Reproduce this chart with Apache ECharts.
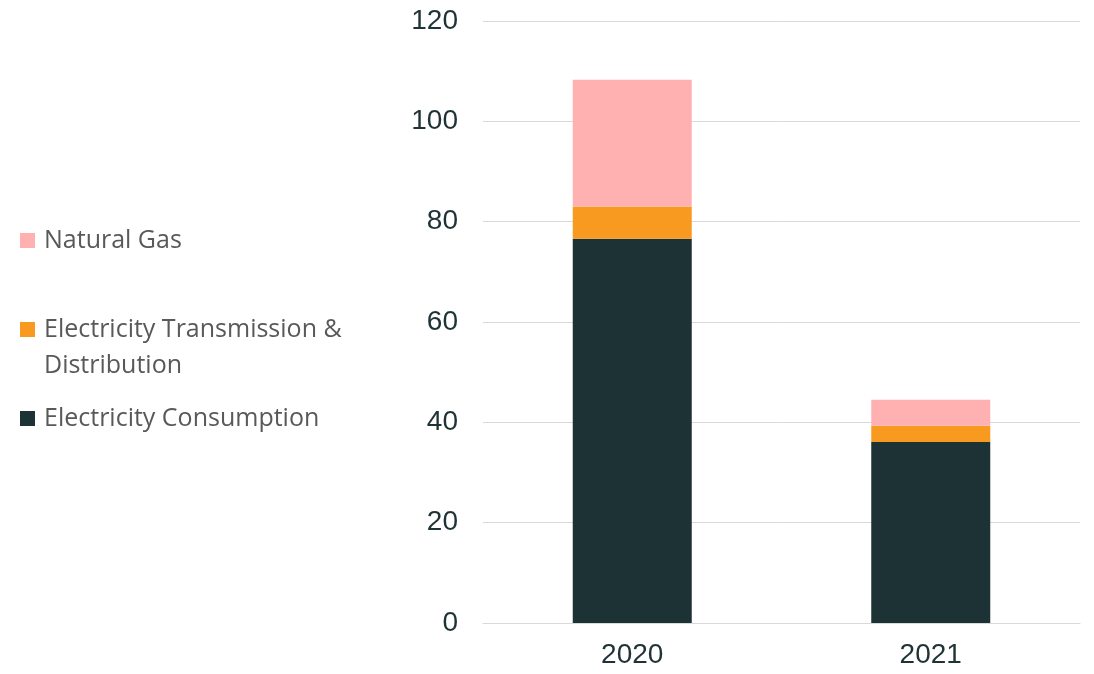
<!DOCTYPE html>
<html>
<head>
<meta charset="utf-8">
<script src="https://cdn.jsdelivr.net/npm/echarts@6/dist/echarts.min.js"></script>
<style>
  html, body { margin: 0; padding: 0; background: #fff; }
  #chart { width: 1094px; height: 674px; }
</style>
</head>
<body>
<div id="chart"></div>
<script>
// data
var years = ['2020', '2021']
var consumption = [76.6, 36.1]
var transmission = [6.4, 3.2]
var naturalGas = [25.3, 5.2]
var yTicks = [0, 20, 40, 60, 80, 100, 120]

var chart = echarts.init(document.getElementById('chart'))

var legendText = { fontFamily: 'Open Sans', fontSize: 25, color: '#595959', padding: [0, 0, 0, 4] }
var axisText = { fontFamily: 'Liberation Sans', fontSize: 28, color: '#1f3235' }

chart.setOption({
  animation: false,
  grid: { left: 483, right: 14, top: 21, bottom: 51 },
  legend: [
    {
      data: ['Natural Gas'], orient: 'vertical', left: 20, top: 228, padding: 0,
      icon: 'rect', itemWidth: 15, itemHeight: 15, textStyle: legendText
    },
    {
      data: ['Electricity Transmission & Distribution'], orient: 'vertical', left: 20, top: 317, padding: 0,
      icon: 'rect', itemWidth: 15, itemHeight: 15, textStyle: legendText,
      formatter: function () { return 'Electricity Transmission &' }
    },
    {
      data: ['Electricity Consumption'], orient: 'vertical', left: 20, top: 406, padding: 0,
      icon: 'rect', itemWidth: 15, itemHeight: 15, textStyle: legendText
    }
  ],
  graphic: [{
    type: 'text', left: 44, top: 353,
    style: { text: 'Distribution', font: '25px "Open Sans"', fill: '#595959' }
  }],
  xAxis: {
    type: 'category',
    data: years,
    axisLine: { lineStyle: { color: '#d9d9d9' } },
    axisTick: { show: false },
    axisLabel: Object.assign({ margin: 18 }, axisText)
  },
  yAxis: {
    type: 'value',
    min: yTicks[0],
    max: yTicks[yTicks.length - 1],
    interval: 20,
    axisLine: { show: false },
    axisTick: { show: false },
    splitLine: { lineStyle: { color: '#d9d9d9', width: 1 } },
    axisLabel: Object.assign({ margin: 25 }, axisText)
  },
  series: [
    {
      name: 'Electricity Consumption', type: 'bar', stack: 'total',
      data: consumption, barWidth: 119, itemStyle: { color: '#1c3235' }
    },
    {
      name: 'Electricity Transmission & Distribution', type: 'bar', stack: 'total',
      data: transmission, barWidth: 119, itemStyle: { color: '#f89a1f' }
    },
    {
      name: 'Natural Gas', type: 'bar', stack: 'total',
      data: naturalGas, barWidth: 119, itemStyle: { color: '#ffb1b2' }
    }
  ]
})
</script>
</body>
</html>
